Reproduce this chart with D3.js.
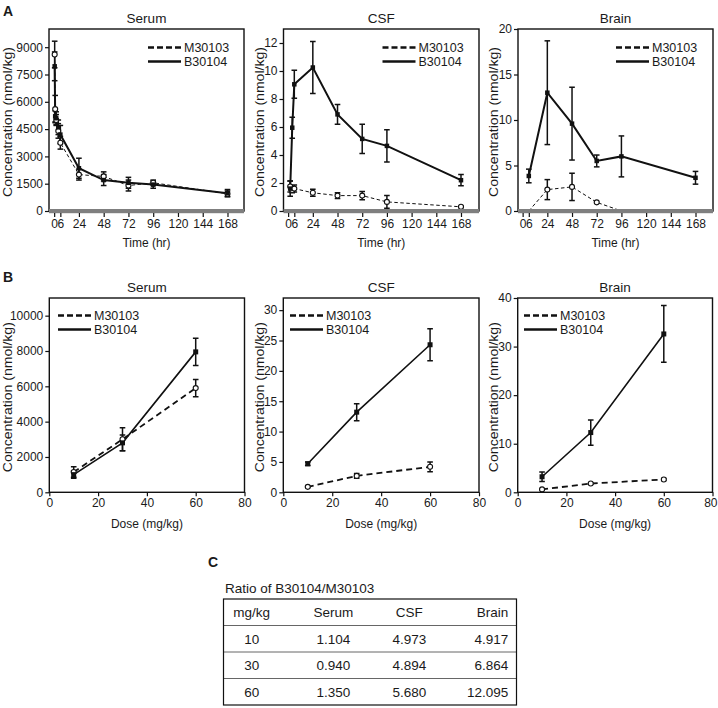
<!DOCTYPE html>
<html><head><meta charset="utf-8">
<script src="https://cdn.jsdelivr.net/npm/d3@7"></script>
<style>
body{margin:0;background:#fff;}
text{font-family:"Liberation Sans",Arial,sans-serif;fill:#1a1a1a;}
</style>
</head><body>
<svg id="c" width="718" height="708"></svg>
<script>
// ---------- DATA ----------
const seriesNames = ["M30103", "B30104"];

// Panel A: time course (hr)
const timeSerum = [0.5, 1, 2, 4, 6, 24, 48, 72, 96, 168];
const serumB_time = [7950, 5200, 5100, 4600, 4200, 2350, 1700, 1550, 1450, 980];
const serumB_timeErr = [790, 300, 350, 400, 500, 550, 300, 300, 200, 200];
const serumM_time = [8600, 5600, 5000, 4400, 3750, 2000, 1900, 1400, 1550, 950];
const serumM_timeErr = [730, 750, 300, 400, 350, 300, 250, 300, 150, 150];

const timeCSF = [2, 4, 6, 24, 48, 72, 96, 168];
const csfB_time = [1.6, 5.95, 9.05, 10.25, 6.9, 5.15, 4.65, 2.2];
const csfB_timeErr = [0.55, 0.75, 1.0, 1.85, 0.7, 1.05, 1.15, 0.4];
const csfM_time = [1.75, 1.5, 1.6, 1.3, 1.1, 1.1, 0.65, 0.3];
const csfM_timeErr = [0.4, 0.2, 0.25, 0.25, 0.2, 0.3, 0.45, 0.05];

const timeBrain = [6, 24, 48, 72, 96, 168];
const brainB_time = [3.85, 13.0, 9.6, 5.5, 6.0, 3.65];
const brainB_timeErr = [0.75, 5.7, 4.0, 0.65, 2.25, 0.7];
const brainM_time = [0, 2.35, 2.65, 0.95, 0, 0];
const brainM_timeErr = [0, 1.1, 1.5, 0, 0, 0];

const timeTicks = [0, 6, 24, 48, 72, 96, 120, 144, 168];
const serumTimeTicks = [0, 1500, 3000, 4500, 6000, 7500, 9000];
const csfTimeTicks = [0, 2, 4, 6, 8, 10, 12];
const brainTimeTicks = [0, 5, 10, 15, 20];

// Panel B: dose response (mg/kg)
const doses = [10, 30, 60];
const serumB_dose = [1000, 2800, 7950];
const serumB_doseErr = [200, 450, 770];
const serumM_dose = [1150, 3000, 5900];
const serumM_doseErr = [300, 650, 490];
const csfB_dose = [4.7, 13.2, 24.3];
const csfB_doseErr = [0.3, 1.4, 2.65];
const csfM_dose = [0.9, 2.7, 4.2];
const csfM_doseErr = [0.1, 0.4, 0.8];
const brainB_dose = [3.2, 12.3, 32.6];
const brainB_doseErr = [1.0, 2.6, 5.85];
const brainM_dose = [0.6, 1.8, 2.65];
const brainM_doseErr = [0.1, 0.15, 0.2];

const doseTicks = [0, 20, 40, 60, 80];
const serumDoseTicks = [0, 2000, 4000, 6000, 8000, 10000];
const csfDoseTicks = [0, 5, 10, 15, 20, 25, 30];
const brainDoseTicks = [0, 10, 20, 30, 40];

// Panel C: table
const tableHeader = ["mg/kg", "Serum", "CSF", "Brain"];
const tableDose = ["10", "30", "60"];
const ratioSerum = ["1.104", "0.940", "1.350"];
const ratioCSF = ["4.973", "4.894", "5.680"];
const ratioBrain = ["4.917", "6.864", "12.095"];

// ---------- DRAW ----------
const W = 718;
const svg = d3.select("#c");

function zip(xs, ys, es) { return xs.map((x, i) => ({x: x, y: ys[i], e: es[i]})); }

function panel(cfg) {
  const g = svg.append("g");
  const x = d3.scaleLinear().domain(cfg.xDomain).range([cfg.left, cfg.right]);
  const y = d3.scaleLinear().domain(cfg.yDomain).range([cfg.bottom, cfg.top]);
  const clipId = "clip" + Math.round(cfg.left) + "_" + Math.round(cfg.top);
  g.append("clipPath").attr("id", clipId).append("rect")
    .attr("x", cfg.left).attr("y", cfg.top - 10)
    .attr("width", cfg.right - cfg.left).attr("height", cfg.bottom - cfg.top + 10);

  // title
  g.append("text").attr("x", (cfg.left + cfg.right) / 2).attr("y", cfg.top - 6)
    .attr("text-anchor", "middle").style("font-size", "13.5px").text(cfg.title);

  const data = g.append("g").attr("clip-path", `url(#${clipId})`);
  const sw = cfg.mode === "A" ? [1, 2] : [1.8, 1.6];
  const dash = cfg.mode === "A" ? "3.5,2.5" : "6,4";

  cfg.series.forEach((s, si) => {
    const pts = zip(s.x, s.y, s.e);
    const line = d3.line().x(d => x(d.x)).y(d => y(d.y));
    data.append("path").datum(pts).attr("d", line).attr("fill", "none")
      .attr("stroke", "#111").attr("stroke-width", sw[si])
      .attr("stroke-dasharray", si === 0 ? dash : null);
  });
  cfg.series.forEach((s, si) => {
    const pts = zip(s.x, s.y, s.e).filter(d => d.e > 0);
    const eb = data.append("g").attr("stroke", "#111").attr("stroke-width", 1.5);
    pts.forEach(d => {
      const cx = x(d.x);
      eb.append("line").attr("x1", cx).attr("x2", cx).attr("y1", y(d.y - d.e)).attr("y2", y(d.y + d.e));
      eb.append("line").attr("x1", cx - 2.8).attr("x2", cx + 2.8).attr("y1", y(d.y - d.e)).attr("y2", y(d.y - d.e));
      eb.append("line").attr("x1", cx - 2.8).attr("x2", cx + 2.8).attr("y1", y(d.y + d.e)).attr("y2", y(d.y + d.e));
    });
  });
  cfg.series.forEach((s, si) => {
    // points at zero sit under the baseline band and are not shown
    const pts = zip(s.x, s.y, s.e).filter(d => d.y > 0);
    if (si === 0) {
      data.selectAll(null).data(pts).enter().append("circle")
        .attr("cx", d => x(d.x)).attr("cy", d => y(d.y)).attr("r", 2.5)
        .attr("fill", "#fff").attr("stroke", "#111").attr("stroke-width", 1.1);
    } else {
      const sz = cfg.mode === "A" ? 4.5 : 5;
      data.selectAll(null).data(pts).enter().append("rect")
        .attr("x", d => x(d.x) - sz / 2).attr("y", d => y(d.y) - sz / 2)
        .attr("width", sz).attr("height", sz).attr("fill", "#111");
    }
  });

  // frame
  g.append("rect").attr("x", cfg.left).attr("y", cfg.top)
    .attr("width", cfg.right - cfg.left).attr("height", cfg.bottom - cfg.top)
    .attr("fill", "none").attr("stroke", "#111").attr("stroke-width", 1.4);

  // gray baseline band (panel A)
  if (cfg.mode === "A") {
    g.append("rect").attr("x", cfg.left).attr("y", cfg.bottom - 2)
      .attr("width", cfg.right - cfg.left).attr("height", 4.2).attr("fill", "#7f7f7f");
  }

  // axes
  const yAxis = d3.axisLeft(y).tickValues(cfg.yTicks).tickSize(4).tickPadding(2).tickFormat(d3.format("d"));
  const ya = g.append("g").attr("transform", `translate(${cfg.left},0)`).call(yAxis);
  ya.select(".domain").remove();
  ya.selectAll("line").attr("stroke", "#111").attr("stroke-width", 1.2);
  ya.selectAll("text").style("font-size", "12px").style("font-family", "Liberation Sans, Arial, sans-serif").attr("fill", "#1a1a1a");

  const xOff = cfg.mode === "A" ? 2 : 0;
  const xAxis = d3.axisBottom(x).tickValues(cfg.xTicks).tickSize(4).tickPadding(2).tickFormat(d3.format("d"));
  const xa = g.append("g").attr("transform", `translate(0,${cfg.bottom + xOff})`).call(xAxis);
  xa.select(".domain").remove();
  xa.selectAll("line").attr("stroke", "#111").attr("stroke-width", 1.2);
  xa.selectAll("text").style("font-size", "12px").style("font-family", "Liberation Sans, Arial, sans-serif").attr("fill", "#1a1a1a");
  // keep labels at the right page edge inside the picture
  xa.selectAll(".tick").each(function(d) {
    if (x(d) + 8 > W) d3.select(this).select("text").attr("text-anchor", "end").attr("dx", (W - 1 - x(d)) + "px");
  });

  // axis labels
  g.append("text").attr("x", (cfg.left + cfg.right) / 2).attr("y", cfg.bottom + 36)
    .attr("text-anchor", "middle").style("font-size", "12px").text(cfg.xLabel);
  g.append("text").attr("transform", `translate(${cfg.yLabelX},${(cfg.top + cfg.bottom) / 2 + 2}) rotate(-90)`)
    .attr("text-anchor", "middle").style("font-size", "12.5px")
    .attr("textLength", 150).attr("lengthAdjust", "spacingAndGlyphs")
    .text("Concentration (nmol/kg)");

  // legend
  const lg = g.append("g");
  seriesNames.forEach((n, i) => {
    const ly = cfg.legY + i * 14;
    lg.append("line").attr("x1", cfg.legX).attr("x2", cfg.legX + 33).attr("y1", ly).attr("y2", ly)
      .attr("stroke", "#111").attr("stroke-width", 2.6)
      .attr("stroke-dasharray", i === 0 ? "6,3" : null);
    lg.append("text").attr("x", cfg.legX + 36).attr("y", ly + 4.5).style("font-size", "12.5px").text(n);
  });
}

const A = {top: 29, bottom: 211};
panel({mode: "A", title: "Serum", left: 49, right: 244, top: A.top, bottom: A.bottom,
  xDomain: [-5, 184], yDomain: [0, 10000], xTicks: timeTicks, yTicks: serumTimeTicks,
  xLabel: "Time (hr)", yLabelX: 12, legX: 148, legY: 47.5,
  series: [{x: timeSerum, y: serumM_time, e: serumM_timeErr}, {x: timeSerum, y: serumB_time, e: serumB_timeErr}]});
panel({mode: "A", title: "CSF", left: 283.5, right: 479, top: A.top, bottom: A.bottom,
  xDomain: [-4.5, 185.5], yDomain: [0, 13], xTicks: timeTicks, yTicks: csfTimeTicks,
  xLabel: "Time (hr)", yLabelX: 264, legX: 382.5, legY: 47.5,
  series: [{x: timeCSF, y: csfM_time, e: csfM_timeErr}, {x: timeCSF, y: csfB_time, e: csfB_timeErr}]});
panel({mode: "A", title: "Brain", left: 518, right: 713, top: A.top, bottom: A.bottom,
  xDomain: [-4.5, 185], yDomain: [0, 20], xTicks: timeTicks, yTicks: brainTimeTicks,
  xLabel: "Time (hr)", yLabelX: 498, legX: 616, legY: 47.5,
  series: [{x: timeBrain, y: brainM_time, e: brainM_timeErr}, {x: timeBrain, y: brainB_time, e: brainB_timeErr}]});

const B = {top: 298, bottom: 492.3};
panel({mode: "B", title: "Serum", left: 49.3, right: 244.5, top: B.top, bottom: B.bottom,
  xDomain: [0, 80], yDomain: [0, 11000], xTicks: doseTicks, yTicks: serumDoseTicks,
  xLabel: "Dose (mg/kg)", yLabelX: 12, legX: 58, legY: 315.5,
  series: [{x: doses, y: serumM_dose, e: serumM_doseErr}, {x: doses, y: serumB_dose, e: serumB_doseErr}]});
panel({mode: "B", title: "CSF", left: 283.3, right: 479, top: B.top, bottom: B.bottom,
  xDomain: [0, 80], yDomain: [0, 32], xTicks: doseTicks, yTicks: csfDoseTicks,
  xLabel: "Dose (mg/kg)", yLabelX: 264, legX: 290, legY: 315.5,
  series: [{x: doses, y: csfM_dose, e: csfM_doseErr}, {x: doses, y: csfB_dose, e: csfB_doseErr}]});
panel({mode: "B", title: "Brain", left: 517.7, right: 712.5, top: B.top, bottom: B.bottom,
  xDomain: [0, 80], yDomain: [0, 40], xTicks: doseTicks, yTicks: brainDoseTicks,
  xLabel: "Dose (mg/kg)", yLabelX: 498, legX: 524, legY: 315.5,
  series: [{x: doses, y: brainM_dose, e: brainM_doseErr}, {x: doses, y: brainB_dose, e: brainB_doseErr}]});

// panel letters
[["A", 3, 16], ["B", 3, 282], ["C", 208, 567]].forEach(([t, lx, ly]) => {
  svg.append("text").attr("x", lx).attr("y", ly).style("font-size", "14px").style("font-weight", "bold").text(t);
});

// table
const tb = svg.append("g");
const tL = 223.5, tR = 516.5, tT = 599, rowH = 26.5;
tb.append("text").attr("x", 225).attr("y", 593).style("font-size", "13.5px").text("Ratio of B30104/M30103");
const colX = [251.7, 333.3, 409.3, 508.3];
const colAnchor = ["middle", "middle", "middle", "end"];
const rows = [tableHeader].concat(tableDose.map((d, i) => [d, ratioSerum[i], ratioCSF[i], ratioBrain[i]]));
rows.forEach((r, ri) => {
  r.forEach((c, ci) => {
    tb.append("text").attr("x", colX[ci]).attr("y", tT + ri * rowH + rowH / 2 + 5)
      .attr("text-anchor", colAnchor[ci]).style("font-size", "13.5px").text(c);
  });
  if (ri > 0) {
    tb.append("line").attr("x1", tL).attr("x2", tR).attr("y1", tT + ri * rowH).attr("y2", tT + ri * rowH)
      .attr("stroke", "#666").attr("stroke-width", 1);
  }
});
tb.append("rect").attr("x", tL).attr("y", tT).attr("width", tR - tL).attr("height", rowH * 4)
  .attr("fill", "none").attr("stroke", "#111").attr("stroke-width", 1.2);
</script>
</body></html>
